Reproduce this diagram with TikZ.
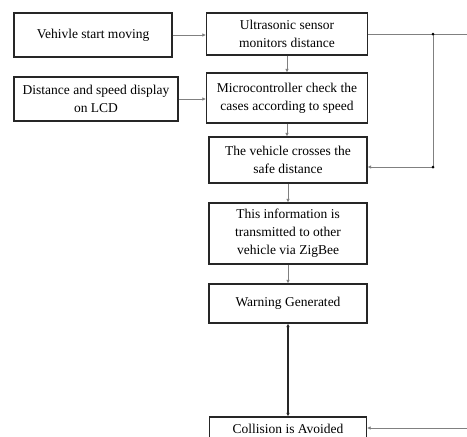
\documentclass[tikz,border=0pt]{standalone}
\usepackage{fontspec}
\setmainfont{Liberation Serif}
\usetikzlibrary{arrows.meta}
\tikzset{
  box/.style={draw=black!85, line width=1.3pt, fill=white, align=center,
    font=\fontsize{13.5}{18}\selectfont, inner sep=0pt},
  conn/.style={draw=black!50, line width=0.8pt, -{Latex[length=3.5pt,width=3.5pt]}},
  plain/.style={draw=black!50, line width=0.8pt},
  junc/.style={circle, fill=black, inner sep=0pt, minimum size=3pt},
}
\begin{document}
\begin{tikzpicture}[x=1pt,y=-1pt]
\useasboundingbox (0,0) rectangle (467,437);
\clip (0,0) rectangle (467,437);
\fill[white] (0,0) rectangle (467,437);

\node[box, minimum width=158pt, minimum height=44pt] (A) at (93,35) {Vehivle start moving};
\node[box, minimum width=164pt, minimum height=44pt] (D) at (96,99) {Distance and speed display\\on LCD};
\node[box, minimum width=161pt, minimum height=42pt] (B) at (287,34) {Ultrasonic sensor\\monitors distance};
\node[box, minimum width=161pt, minimum height=50pt] (C) at (287,98) {Microcontroller check the\\cases according to speed};
\node[box, minimum width=158pt, minimum height=46pt] (E) at (288,160) {The vehicle crosses the\\safe distance};
\node[box, minimum width=158pt, minimum height=61pt] (F) at (288,233.5) {This information is\\transmitted to other\\vehicle via ZigBee};
\node[box, minimum width=158pt, minimum height=39pt] (G) at (288,303.5) {Warning Generated};
\node[box, minimum width=157pt, minimum height=24pt] (H) at (288,429) {Collision is Avoided};

\coordinate (j1) at (433,34);
\coordinate (e1) at (467,34);
\coordinate (j2) at (433,167);
\coordinate (e2) at (467,428);

\draw[conn] (A.east) -- (A.east -| B.west);
\draw[conn] (D.east) -- (D.east -| C.west);
\draw[conn] (B.south) -- (B.south |- C.north);
\draw[conn] (C.south) -- (C.south |- E.north);
\draw[conn] (E.south) -- (E.south |- F.north);
\draw[conn] (F.south) -- (F.south |- G.north);
\draw[black!85, line width=1.3pt, {Latex[length=3.5pt,width=3.5pt]}-{Latex[length=3.5pt,width=3.5pt]}] (G.south) -- (G.south |- H.north);

\draw[plain] (B.east) -- (e1);
\draw[conn] (j1) -- (j2) -- (E.east |- j2);
\node[junc] at (j1) {};
\node[junc] at (j2) {};
\draw[conn] (e2) -- (H.east |- e2);
\end{tikzpicture}
\end{document}
